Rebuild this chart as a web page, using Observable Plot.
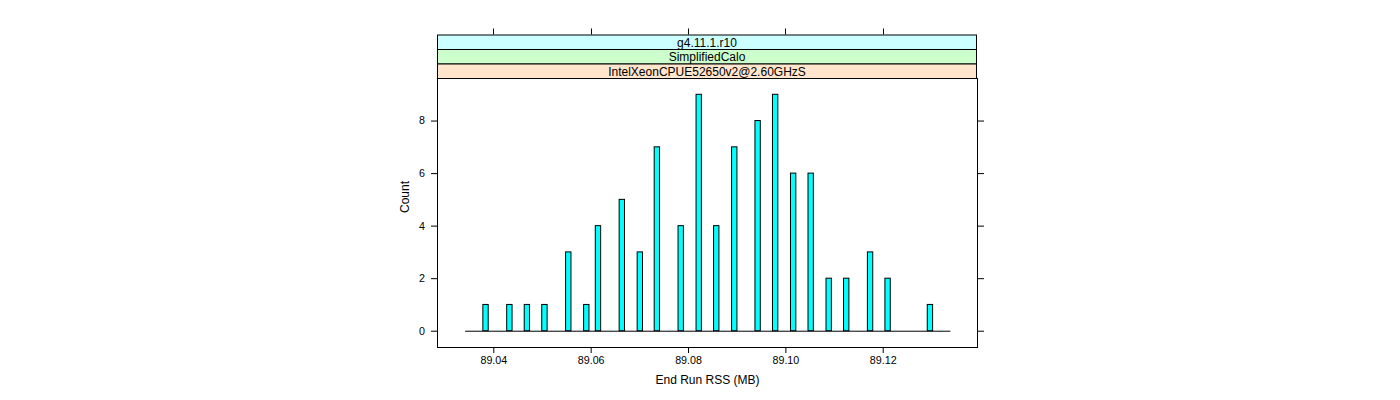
<!DOCTYPE html>
<html>
<head>
<meta charset="utf-8">
<script src="https://cdn.jsdelivr.net/npm/d3@7"></script>
<script src="https://cdn.jsdelivr.net/npm/@observablehq/plot@0.6"></script>
<style>
  html, body { margin: 0; padding: 0; background: #fff; }
  #chart { width: 1400px; height: 400px; }
  svg { font-family: "Liberation Sans", Arial, Helvetica, sans-serif; }
</style>
</head>
<body>
<div id="chart"></div>
<script>
// ---- data ----
const rss = [89.0384, 89.0433, 89.0469, 89.0505, 89.0554, 89.0591, 89.0615, 89.0664,
             89.0701, 89.0736, 89.0785, 89.0822, 89.0858, 89.0895, 89.0943, 89.0979,
             89.1016, 89.1052, 89.1089, 89.1125, 89.1174, 89.1210, 89.1297];
const counts = [1, 1, 1, 1, 3, 1, 4, 5, 3, 7, 4, 9, 4, 7, 8, 9, 6, 6, 2, 2, 3, 2, 1];
const xTicks = [89.04, 89.06, 89.08, 89.10, 89.12];
const yTicks = [0, 2, 4, 6, 8];
const stripLabels = ["g4.11.1.r10", "SimplifiedCalo", "IntelXeonCPUE52650v2@2.60GHzS"];
const xLabel = "End Run RSS (MB)";
const yLabel = "Count";

// ---- styling ----
const stripFills = ["#ccffff", "#ccffcc", "#ffe5cc"];
const barFill = "#00ffff";
const halfBar = 0.00055;   // half bar width in data units
const basePad = 0.0042;    // baseline overhang beyond outer bars

const data = rss.map((v, i) => ({rss: v, count: counts[i]}));

const chart = Plot.plot({
  width: 1400,
  height: 400,
  marginLeft: 437,
  marginRight: 423,
  marginTop: 78,
  marginBottom: 53,
  style: {fontFamily: '"Liberation Sans", Arial, sans-serif', fontSize: "10.7px", background: "#fff"},
  x: {domain: [89.02843, 89.13937]},
  y: {domain: [-0.62, 9.62]},
  marks: [
    Plot.frame({stroke: "#000"}),
    Plot.ruleY([0], {x1: d3.min(rss) - basePad, x2: d3.max(rss) + basePad, stroke: "#000", strokeWidth: 1}),
    Plot.rectY(data, {
      x1: d => d.rss - halfBar, x2: d => d.rss + halfBar,
      y1: 0, y2: "count",
      fill: barFill, stroke: "#000", strokeWidth: 1
    }),
    Plot.axisY({anchor: "left", ticks: yTicks, tickSize: 6, tickPadding: 6.5, label: null, fontSize: "10.7px"}),
    Plot.axisY({anchor: "right", ticks: yTicks, tickSize: 6, tickFormat: () => "", label: null}),
    Plot.axisX({anchor: "bottom", ticks: xTicks, tickSize: 6, tickPadding: 3, tickFormat: d3.format(".2f"), label: null, fontSize: "10.7px"}),
    Plot.text([yLabel], {frameAnchor: "left", dx: -32, rotate: -90, fontSize: 12, fill: "#000"}),
    Plot.text([xLabel], {frameAnchor: "bottom", dy: 36, fontSize: 12, fill: "#000"})
  ]
});

document.getElementById("chart").appendChild(chart);

// ---- strips and top ticks (lattice style), placed with the chart's own x scale ----
const xs = chart.scale("x");
const [left, right] = xs.range;
const svg = d3.select(chart);
const stripH = 14.5;
const panelTop = 78;
const g = svg.append("g");
stripLabels.forEach((lab, i) => {
  const y0 = panelTop - stripH * (stripLabels.length - i);
  g.append("rect")
    .attr("x", left + 0.5).attr("y", y0 + 0.5)
    .attr("width", right - left - 1).attr("height", stripH)
    .attr("fill", stripFills[i]).attr("stroke", "#000");
  g.append("text")
    .attr("x", (left + right) / 2).attr("y", y0 + stripH / 2 + 0.5)
    .attr("dy", "0.36em").attr("text-anchor", "middle")
    .attr("font-size", 12).attr("fill", "#000")
    .text(lab);
});
const topY = panelTop - stripH * stripLabels.length;
xTicks.forEach(t => {
  const x = Math.round(xs.apply(t)) + 0.5;
  g.append("line")
    .attr("x1", x).attr("x2", x)
    .attr("y1", topY - 6).attr("y2", topY)
    .attr("stroke", "#000");
});
</script>
</body>
</html>
